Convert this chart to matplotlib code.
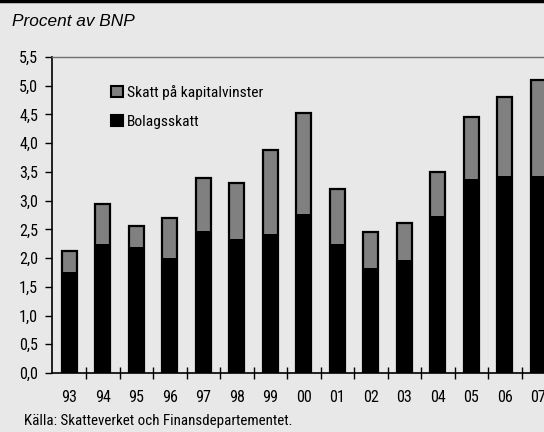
import matplotlib
matplotlib.use("Agg")
import matplotlib.pyplot as plt
from matplotlib.patches import Patch
from matplotlib.lines import Line2D
import numpy as np

years = ["93", "94", "95", "96", "97", "98", "99", "00", "01", "02", "03", "04", "05", "06", "07"]
total = [2.12, 2.95, 2.55, 2.70, 3.40, 3.30, 3.88, 4.52, 3.20, 2.46, 2.61, 3.49, 4.46, 4.81, 5.10]
bolagsskatt = [1.76, 2.25, 2.20, 2.00, 2.47, 2.33, 2.42, 2.77, 2.25, 1.83, 1.96, 2.73, 3.37, 3.43, 3.43]
kapital = [t - b for t, b in zip(total, bolagsskatt)]
yticks = [0.0, 0.5, 1.0, 1.5, 2.0, 2.5, 3.0, 3.5, 4.0, 4.5, 5.0, 5.5]
ytick_labels = ["0,0", "0,5", "1,0", "1,5", "2,0", "2,5", "3,0", "3,5", "4,0", "4,5", "5,0", "5,5"]
legend_labels = ["Skatt på kapitalvinster", "Bolagsskatt"]
title = "Procent av BNP"
source = "Källa: Skatteverket och Finansdepartementet."

bg = "#e8e8e8"
grey = "#808080"
narrow = ["Roboto Condensed", "Archivo Narrow", "DejaVu Sans"]
regular = ["Liberation Sans", "DejaVu Sans"]

fig = plt.figure(figsize=(5.44, 4.32), dpi=100, facecolor=bg)
renderer = fig.canvas.get_renderer()


def fit_size(text, target_px, family, style="normal"):
    t = fig.text(0, 0, text, fontsize=10, family=family, style=style)
    w = t.get_window_extent(renderer).width
    t.remove()
    return 10 * target_px / w


legend_size = fit_size(legend_labels[0], 135, narrow)
tick_size = fit_size("5,0", 19, narrow)
source_size = fit_size(source, 266, narrow)
title_size = fit_size(title, 123, regular, "italic")

W, H = 544, 432
left, right = 52, 555
top, bottom = 57, 373
ax = fig.add_axes([left / W, (H - bottom) / H, (right - left) / W, (bottom - top) / H])
ax.set_facecolor(bg)

x = np.arange(len(years))
bw = 0.45
ax.bar(x, bolagsskatt, width=bw, color="black", edgecolor="black", linewidth=0, zorder=2)
ax.bar(x, kapital, bottom=bolagsskatt, width=bw, color=grey, edgecolor="black", linewidth=0, zorder=2)
ax.bar(x, total, width=bw, fill=False, edgecolor="black", linewidth=1.6, zorder=3)

ax.set_xlim(-0.52, 14.5)
ax.set_ylim(0, 5.5)
ax.set_yticks(yticks)
ax.set_yticklabels(ytick_labels, family=narrow, fontsize=tick_size)
ax.set_xticks(x + 0.5)
ax.set_xticklabels([])
ax.set_xticks(x, minor=True)
ax.set_xticklabels(years, minor=True, family=narrow, fontsize=tick_size)
ax.tick_params(axis="x", which="major", direction="inout", length=8, width=1, color="black")
ax.tick_params(axis="x", which="minor", length=0, pad=12)
ax.tick_params(axis="y", direction="out", length=5, width=1, pad=5)

for s in ["left", "bottom"]:
    ax.spines[s].set_color("black")
    ax.spines[s].set_linewidth(1.2)
ax.spines["top"].set_color("#707070")
ax.spines["top"].set_linewidth(1.0)
ax.spines["right"].set_visible(False)

handles = [Patch(facecolor=grey, edgecolor="black", linewidth=1.5),
           Patch(facecolor="black", edgecolor="black", linewidth=1.5)]
ax.legend(handles, legend_labels,
          loc="upper left", bbox_to_anchor=(0.09, 0.955), frameon=False,
          prop={"family": narrow, "size": legend_size}, handlelength=0.75, handleheight=0.75,
          handletextpad=0.25, labelspacing=0.95)

fig.add_artist(Line2D([0, 1], [1 - 1 / H, 1 - 1 / H], transform=fig.transFigure, color="black", linewidth=2.5))
fig.text(12 / W, 1 - 22 / H, title, fontsize=title_size, style="italic",
         family=regular, va="center", ha="left")
fig.text(24 / W, 1 - 421 / H, source, family=narrow, fontsize=source_size, va="center", ha="left")

fig.savefig("out.png", dpi=100, facecolor=bg)
